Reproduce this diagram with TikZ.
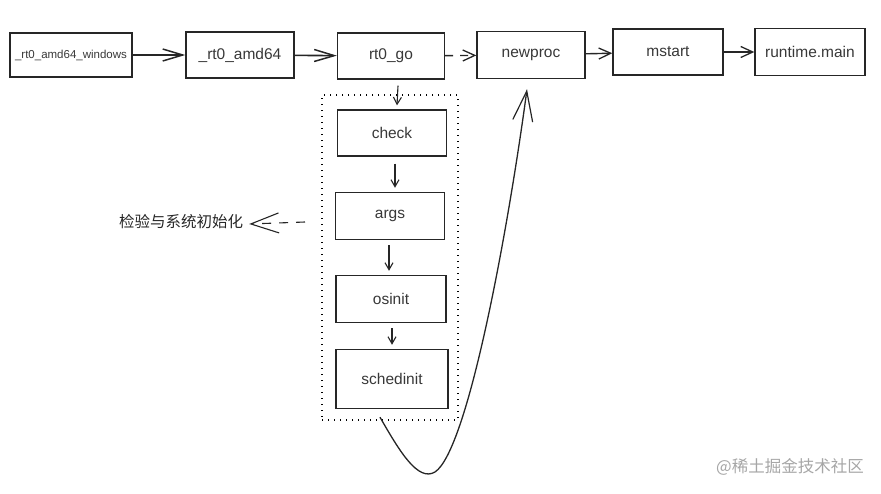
\documentclass[tikz,border=0pt]{standalone}
\usepackage{fontspec}
\setmainfont{Liberation Sans}
\newfontfamily\cjk{Noto Sans CJK SC}
\usetikzlibrary{arrows.meta,fit,calc}
\begin{document}
\begin{tikzpicture}[x=1pt,y=-1pt,
  box/.style={draw=black!85, line width=1.4pt, inner sep=0pt, text=black!78,
    minimum width=108pt, minimum height=46pt, font=\fontsize{15.5}{17}\selectfont},
  arr/.style={draw=black!85, line width=1.4pt, -{Straight Barb[length=12pt,width=11pt,line width=1.3pt]}},
  larr/.style={draw=black!85, line width=1.6pt, -{Straight Barb[length=20pt,width=12pt,line width=1.5pt]}},
  varr/.style={draw=black!85, line width=1.1pt, -{Straight Barb[length=7pt,width=8pt,line width=1.1pt]}},
  grp/.style={draw=black, line width=1.4pt, dash pattern=on 1.4pt off 4.6pt, inner sep=0pt},
]
\useasboundingbox (0,0) rectangle (881,493);
% top row
\node[box, minimum width=122pt, minimum height=44pt, font=\fontsize{11.5}{13}\selectfont] (w) at (71,55) {\_rt0\_amd64\_windows};
\node[box] (a) at (240,55) {\_rt0\_amd64};
\node[box, minimum width=107pt] (g) at (391,56) {rt0\_go};
\node[box, minimum height=47pt] (np) at (531,55) {newproc};
\node[box, minimum width=110pt] (ms) at (668,52) {mstart};
\node[box, minimum width=110pt, minimum height=47pt] (rm) at (810,52) {runtime.main};
% column
\node[box, minimum width=109pt] (ck) at (392,133) {check};
\node[box, minimum width=109pt, minimum height=47pt] (ag) at (390,216) {args};
\node[box, minimum width=110pt, minimum height=47pt] (os) at (391,299) {osinit};
\node[box, minimum width=112pt, minimum height=59pt] (sch) at (392,379) {schedinit};
% dotted group
\coordinate (gtl) at (322,95);
\coordinate (gbr) at (458,420);
\node[grp, fit=(gtl)(gbr)] (grp) {};
% label
\node[font=\cjk\fontsize{15.5}{17}\selectfont, text=black!85, inner sep=0pt] (lbl) at (181,222) {检验与系统初始化};
\coordinate (lblsrc) at (305,222);
% watermark
\node[font=\cjk\fontsize{16.5}{18}\selectfont, text=black!35, inner sep=0pt, anchor=east] (wm) at (864,467) {@稀土掘金技术社区};
% connectors
\draw[larr] (w) -- (a);
\draw[larr] (a) -- (g);
\draw[arr, dash pattern=on 8pt off 7pt] (g) -- (np);
\draw[arr] (np) -- (ms);
\draw[arr, line width=2pt] (ms) -- (rm);
\draw[varr] ($(g.south)+(7,6)$) -- ($(ck.north)+(5,-4)$);
\draw[varr] ($(ck.south)+(3,7)$) -- ($(ag.north)+(5,-4)$);
\draw[varr] ($(ag.south)+(-1,5)$) -- ($(os.north)+(-2,-4)$);
\draw[varr] ($(os.south)+(1,5)$) -- ($(sch.north)+(0,-4)$);
\draw[draw=black!85, dash pattern=on 9pt off 8pt, -{Straight Barb[length=28pt,width=20pt,line width=1.1pt]}, line width=1.1pt] (lblsrc) -- ($(lbl.east)+(6,2)$);
\draw[line width=1.3pt, draw=black!85, -{Straight Barb[length=30pt,width=20pt,line width=1.2pt]}]
  ($(sch.south)+(-12,8)$) .. controls (400,452) and (418,482) .. (435,472)
  .. controls (468,450) and (508,230) .. ($(np.south)+(-4,10)$);
\end{tikzpicture}
\end{document}
